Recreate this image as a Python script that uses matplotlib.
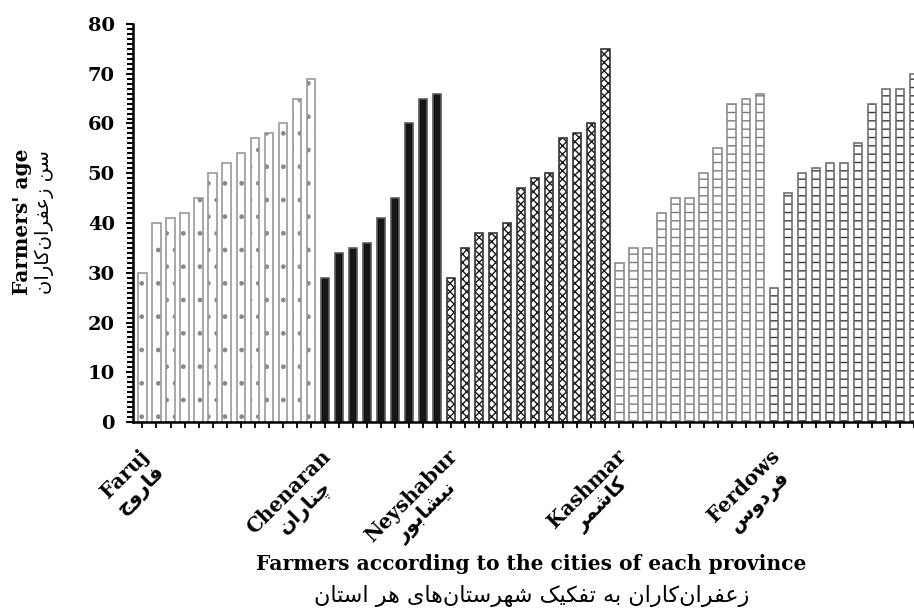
"""Saffron farmers' age by city, one bar per farmer, grouped by city."""
import matplotlib
matplotlib.use("Agg")
import matplotlib.pyplot as plt
import numpy as np
from matplotlib.ticker import MultipleLocator
from matplotlib.transforms import blended_transform_factory

# ages, one value per farmer
faruj = [30, 40, 41, 42, 45, 50, 52, 54, 57, 58, 60, 65, 69]
chenaran = [29, 34, 35, 36, 41, 45, 60, 65, 66]
neyshabur = [29, 35, 38, 38, 40, 47, 49, 50, 57, 58, 60, 75]
kashmar = [32, 35, 35, 42, 45, 45, 50, 55, 64, 65, 66]
ferdows = [27, 46, 50, 51, 52, 52, 56, 64, 67, 67, 70]

cities_en = ["Faruj", "Chenaran", "Neyshabur", "Kashmar", "Ferdows"]
cities_fa = ["فاروج", "چناران", "نیشابور", "کاشمر", "فردوس"]
ylabel_en = "Farmers' age"
ylabel_fa = "سن زعفران‌کاران"
xlabel_en = "Farmers according to the cities of each province"
xlabel_fa = "زعفران‌کاران به تفکیک شهرستان‌های هر استان"

# (face, hatch, hatch colour, edge colour)
styles = [
    ("white", ".", "#8a8a8a", "#9a9a9a"),
    ("#151515", "", "#151515", "#5a5a5a"),
    ("white", "xxxx", "#1a1a1a", "#333333"),
    ("white", "--", "#7a7a7a", "#8c8c8c"),
    ("white", "--", "#3a3a3a", "#707070"),
]

# matplotlib has no Arabic shaping: pick presentation forms by hand and
# reverse into visual order
FORMS = {
    "ا": ("\uFE8D", "\uFE8E", None, None),
    "ب": ("\uFE8F", "\uFE90", "\uFE91", "\uFE92"),
    "ت": ("\uFE95", "\uFE96", "\uFE97", "\uFE98"),
    "ج": ("\uFE9D", "\uFE9E", "\uFE9F", "\uFEA0"),
    "د": ("\uFEA9", "\uFEAA", None, None),
    "ر": ("\uFEAD", "\uFEAE", None, None),
    "ز": ("\uFEAF", "\uFEB0", None, None),
    "س": ("\uFEB1", "\uFEB2", "\uFEB3", "\uFEB4"),
    "ش": ("\uFEB5", "\uFEB6", "\uFEB7", "\uFEB8"),
    "ع": ("\uFEC9", "\uFECA", "\uFECB", "\uFECC"),
    "ف": ("\uFED1", "\uFED2", "\uFED3", "\uFED4"),
    "م": ("\uFEE1", "\uFEE2", "\uFEE3", "\uFEE4"),
    "ن": ("\uFEE5", "\uFEE6", "\uFEE7", "\uFEE8"),
    "ه": ("\uFEE9", "\uFEEA", "\uFEEB", "\uFEEC"),
    "و": ("\uFEED", "\uFEEE", None, None),
    "ی": ("\uFBFC", "\uFBFD", "\uFBFE", "\uFBFF"),
    "ک": ("\uFB8E", "\uFB8F", "\uFB90", "\uFB91"),
    "چ": ("\uFB7A", "\uFB7B", "\uFB7C", "\uFB7D"),
}


def shape(text):
    out = []
    for i, c in enumerate(text):
        if c not in FORMS:
            if c != "\u200c":
                out.append(c)
            continue
        prev = text[i - 1] if i > 0 else ""
        nxt = text[i + 1] if i + 1 < len(text) else ""
        jp = prev in FORMS and FORMS[prev][2] is not None
        jn = nxt in FORMS and FORMS[c][2] is not None
        isol, fin, ini, med = FORMS[c]
        out.append(med if jp and jn else fin if jp else ini if jn else isol)
    return "".join(reversed(out))


groups = [faruj, chenaran, neyshabur, kashmar, ferdows]
serif = ["DejaVu Serif", "DejaVu Sans"]

fig = plt.figure(figsize=(9.14, 6.14), dpi=100)
ax = fig.add_axes([133 / 914, 192 / 614, 781 / 914, 398 / 614])

start = 0
starts = []
for vals, (face, hatch, hcol, ecol) in zip(groups, styles):
    x = np.arange(start, start + len(vals))
    ax.bar(x, vals, width=0.59, color=face, hatch=hatch, edgecolor=hcol, linewidth=0)
    ax.bar(x, vals, width=0.59, fill=False, edgecolor=ecol, linewidth=1.2)
    starts.append(start)
    start += len(vals)

ax.set_xlim(-0.675, 54.83)
ax.set_ylim(0, 80)
ax.set_xticks(np.arange(start))
ax.set_xticklabels([])
ax.yaxis.set_major_locator(MultipleLocator(10))
ax.yaxis.set_minor_locator(MultipleLocator(1))
ax.tick_params(axis="y", which="major", length=5, width=1.5, pad=8, labelsize=14)
ax.tick_params(axis="y", which="minor", length=4, width=1.5)
ax.tick_params(axis="x", length=4, width=1.3)
for lab in ax.get_yticklabels():
    lab.set_fontfamily("DejaVu Serif")
    lab.set_fontweight("bold")
for side in ("top", "right"):
    ax.spines[side].set_visible(False)
for side in ("left", "bottom"):
    ax.spines[side].set_linewidth(1.8)

trans = blended_transform_factory(ax.transData, ax.transAxes)
for s, en, fa in zip(starts, cities_en, cities_fa):
    ax.text(s - 0.3, -0.06, en + "\n" + shape(fa), transform=trans, rotation=45,
            rotation_mode="anchor", ha="right", va="top", multialignment="center",
            fontsize=14.5, fontweight="bold", family=serif, linespacing=1.1)

fig.text(531 / 914, 1 - 564 / 614, xlabel_en, ha="center", va="center",
         fontsize=14.6, fontweight="bold", family="DejaVu Serif")
fig.text(532 / 914, 1 - 596 / 614, shape(xlabel_fa), ha="center", va="center",
         fontsize=16, family="DejaVu Sans")
fig.text(22 / 914, 1 - 222 / 614, ylabel_en, ha="center", va="center", rotation=90,
         fontsize=14.5, fontweight="bold", family="DejaVu Serif")
fig.text(44 / 914, 1 - 222 / 614, shape(ylabel_fa), ha="center", va="center", rotation=90,
         fontsize=14, family="DejaVu Sans")

fig.savefig("out.png", dpi=100)
